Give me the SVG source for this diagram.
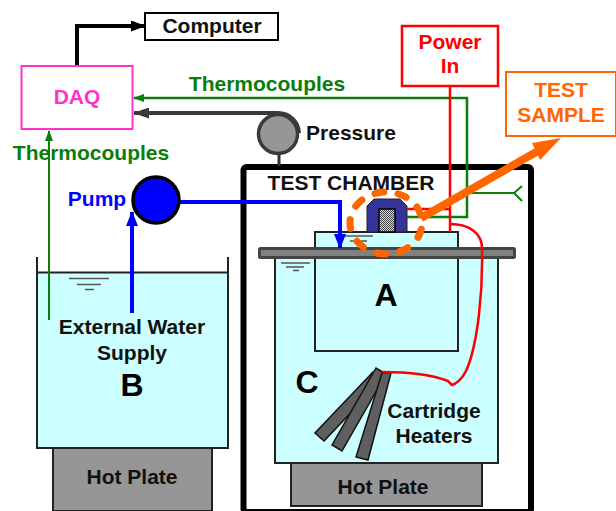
<svg xmlns="http://www.w3.org/2000/svg" width="616" height="511" viewBox="0 0 616 511">
<style>
text{font-family:"Liberation Sans",Arial,sans-serif;font-weight:700;text-anchor:middle;font-size:21px}
.lb{fill:#111}
.g{fill:#0a7d0a}
.big{font-size:32px;fill:#000}
.water{fill:#ccffff;stroke:#222;stroke-width:2}
.hot{fill:#969696;stroke:#222;stroke-width:2}
.lvl{stroke:#555;stroke-width:1.500;fill:none}
.heater{fill:#5f5f5f;stroke:#111;stroke-width:1.500}
</style>
<defs>
<marker id="ag" markerUnits="userSpaceOnUse" markerWidth="11" markerHeight="8" refX="10" refY="4" orient="auto"><path d="M0 0L11 4L0 8Z" fill="#0a7d0a"/></marker>
<marker id="ab" markerUnits="userSpaceOnUse" markerWidth="15" markerHeight="12" refX="14" refY="6" orient="auto"><path d="M0 0L15 6L0 12Z" fill="#0000ff"/></marker>
<marker id="ak" markerUnits="userSpaceOnUse" markerWidth="15" markerHeight="11" refX="14" refY="5.500" orient="auto"><path d="M0 0L15 5.500L0 11Z" fill="#000"/></marker>
<marker id="ad" markerUnits="userSpaceOnUse" markerWidth="16" markerHeight="11" refX="15" refY="5.500" orient="auto"><path d="M0 0L16 5.500L0 11Z" fill="#3a3a3a"/></marker>
<pattern id="dots" width="2" height="2" patternUnits="userSpaceOnUse"><rect width="2" height="2" fill="#d8d8d8"/><rect width="1" height="1" fill="#444"/><rect x="1" y="1" width="1" height="1" fill="#444"/></pattern>
</defs>
<g id="test-chamber"><rect x="243.500" y="167" width="287.500" height="345" rx="3" fill="#fff" stroke="#000" stroke-width="6"/><text class="lb" x="351" y="190">TEST CHAMBER</text></g>
<g id="hot-plate-right"><rect class="hot" x="291" y="463" width="191" height="43"/><text class="lb" x="383" y="494">Hot Plate</text></g>
<g id="tank-c"><rect class="water" x="275" y="258" width="223" height="205"/><path class="lvl" d="M281 263H310M286 267H304M293 270.500H299"/><text class="big" x="307" y="393">C</text></g>
<g id="tank-a"><rect class="water" x="315" y="232" width="143" height="119"/><path class="lvl" d="M345 236H373M350 241H367"/><text class="big" x="386" y="306">A</text></g>
<g id="sample"><path d="M367 232V206L374 199H400L407 206V232Z" fill="#333399" stroke="#222" stroke-width="1"/><rect x="379" y="209" width="16" height="23" fill="url(#dots)" stroke="#000" stroke-width="1.500"/></g>
<g id="plate"><rect x="259.500" y="248.500" width="255" height="9" rx="1" fill="#808080" stroke="#444" stroke-width="3"/></g>
<g id="cartridge-heaters"><path class="heater" d="M373 372L315 433L324 441L382 380Z"/><path class="heater" d="M376 368L332 445L342 451L386 374Z"/><path class="heater" d="M382 373L356 457L368 460L391 373Z"/><text class="lb" x="434" y="418">Cartridge</text><text class="lb" x="434" y="443">Heaters</text></g>
<g id="hot-plate-left"><rect class="hot" x="53" y="448" width="159" height="63"/><text class="lb" x="132" y="484">Hot Plate</text></g>
<g id="tank-b"><rect x="37" y="272" width="191" height="176" fill="#ccffff"/><path d="M37 257V448H228V257" fill="none" stroke="#222" stroke-width="2"/><path d="M37 272.500H228" stroke="#222" stroke-width="2"/><path class="lvl" d="M69 278.500H109M77 284.500H101M85 289.500H94"/><text class="lb" x="132" y="334">External Water</text><text class="lb" x="132" y="360">Supply</text><text class="big" x="132" y="396">B</text></g>
<g id="connectors" fill="none">
<path d="M77 66V26H145" stroke="#000" stroke-width="4" marker-end="url(#ak)"/>
<path d="M407 217H467V98H134" stroke="#0a7d0a" stroke-width="2.500" marker-end="url(#ag)"/>
<path d="M467 193H514M522 186L514 193L522 201" stroke="#0a7d0a" stroke-width="2"/>
<path d="M49 320V131" stroke="#0a7d0a" stroke-width="2" marker-end="url(#ag)"/>
<path d="M299 133A21 21 0 0 0 278 113H134" stroke="#3a3a3a" stroke-width="4" marker-end="url(#ad)"/>
<path d="M279 153V166" stroke="#333" stroke-width="3"/>
<path d="M132 313V212" stroke="#0000ff" stroke-width="4" marker-end="url(#ab)"/>
<path d="M179 202H340V248" stroke="#0000ff" stroke-width="4" marker-end="url(#ab)"/>
<path d="M450 86V232M407 209H450" stroke="#ff0000" stroke-width="2.500"/>
<path d="M450 224C470 224 482 234 482 248C483 290 478 345 466 371C462 379 456 384 452 385L448 381C430 374 410 372 382 372" stroke="#ff0000" stroke-width="2.500"/>
<path d="M421 218L538 151" stroke="#ff6600" stroke-width="8"/>
<path d="M561 138L532 143L540 160Z" fill="#ff6600"/>
<ellipse cx="386" cy="223" rx="36" ry="31" pathLength="216" stroke="#ff6600" stroke-width="7" stroke-dasharray="9 15" stroke-dashoffset="-6.500" stroke-linecap="round"/>
</g>
<g id="computer"><rect x="145" y="13" width="133" height="27" fill="#fff" stroke="#000" stroke-width="2"/><text class="lb" x="212" y="33">Computer</text></g>
<g id="daq"><rect x="21.500" y="66" width="111" height="63" fill="#fff" stroke="#ff33cc" stroke-width="2"/><text x="77" y="104" fill="#ff33cc">DAQ</text></g>
<g id="gauge"><circle cx="278" cy="134" r="19.500" fill="#969696" stroke="#3a3a3a" stroke-width="3.500"/><text class="lb" x="351" y="140">Pressure</text></g>
<g id="pump"><circle cx="156" cy="200" r="23" fill="#0000ff" stroke="#000" stroke-width="3.500"/><text x="97" y="206" fill="#0000ff">Pump</text></g>
<g id="power-in"><rect x="402" y="26" width="96" height="60" fill="#fff" stroke="#ff0000" stroke-width="2.500"/><text x="450" y="49" fill="#ff0000">Power</text><text x="450" y="73" fill="#ff0000">In</text></g>
<g id="test-sample"><rect x="506" y="72" width="110" height="64" fill="#fff" stroke="#ff6600" stroke-width="2"/><text x="561" y="97" fill="#ff6600">TEST</text><text x="561" y="122" fill="#ff6600">SAMPLE</text></g>
<text class="g" x="267" y="91">Thermocouples</text>
<text class="g" x="91" y="160">Thermocouples</text>
</svg>
